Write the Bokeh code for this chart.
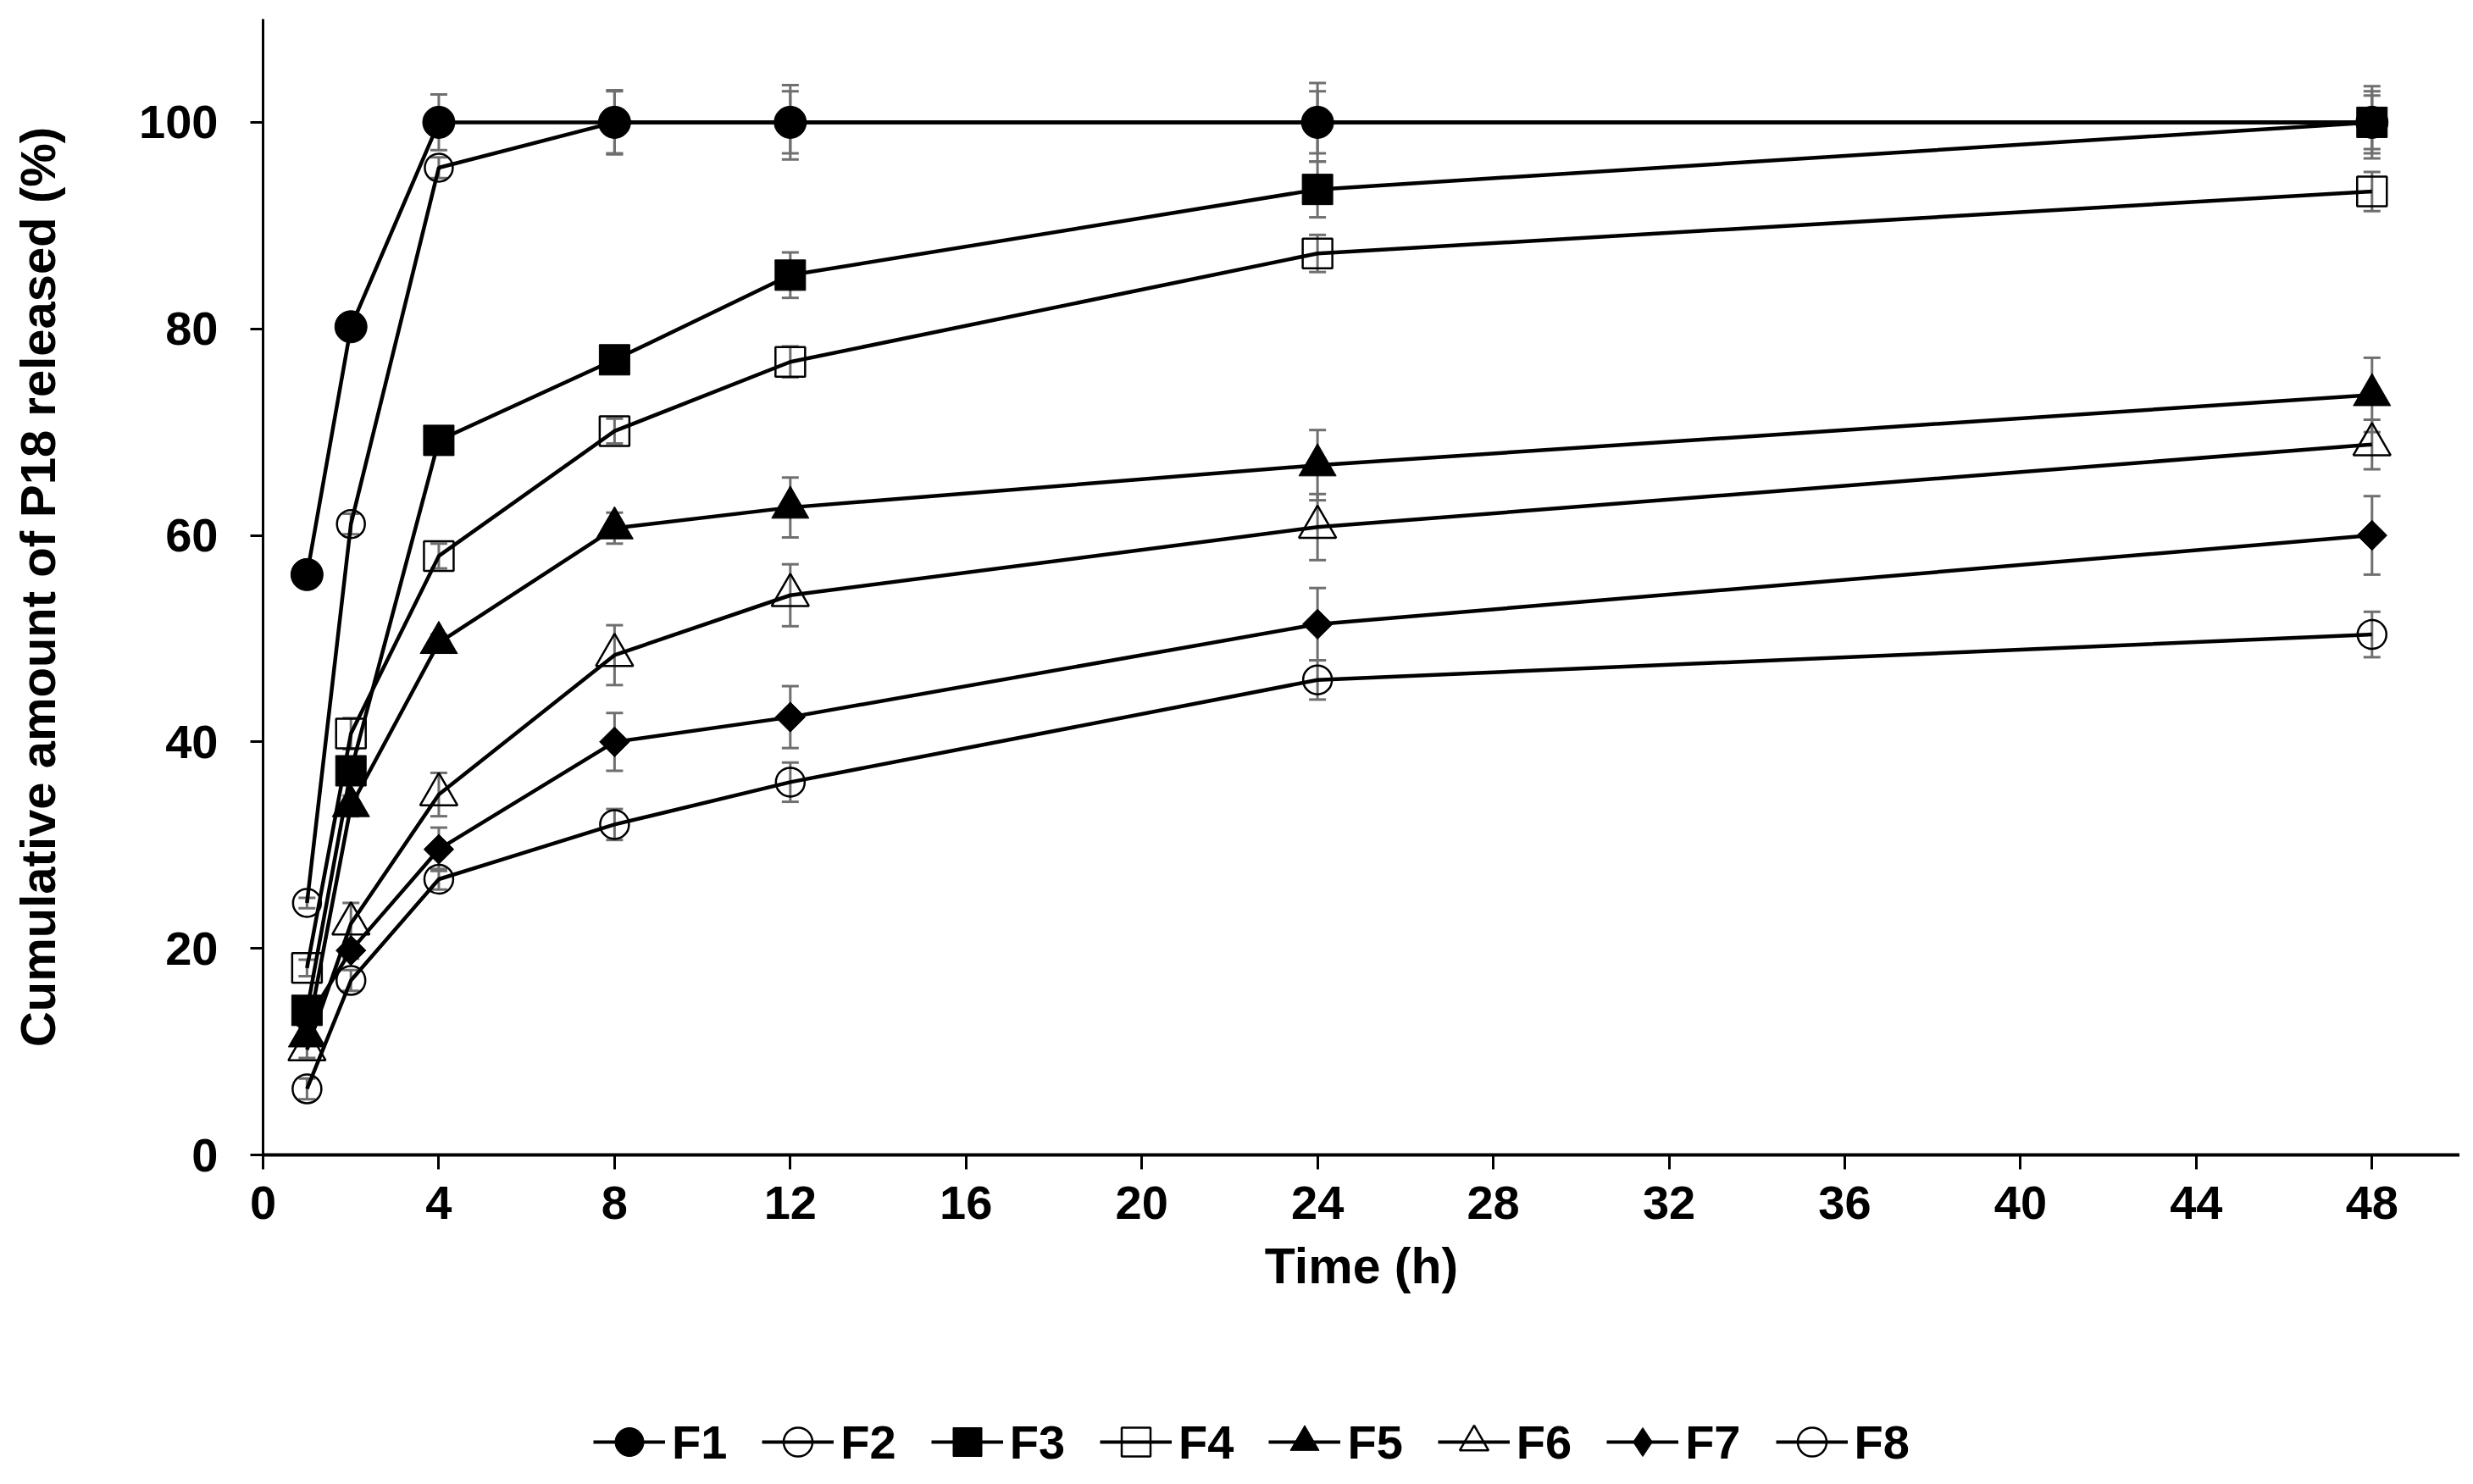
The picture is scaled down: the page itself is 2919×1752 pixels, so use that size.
import numpy as np
from bokeh.plotting import figure
from bokeh.layouts import column
from bokeh.models import (Range1d, FixedTicker, Whisker, TeeHead, ColumnDataSource,
                          Legend, LegendItem)
from bokeh.embed import file_html
from bokeh.resources import INLINE

# ---------------- data ----------------
time_h = [1, 2, 4, 8, 12, 24, 48]
series_names = ["F1", "F2", "F3", "F4", "F5", "F6", "F7", "F8"]

F1 = [56.2, 80.2, 100.0, 100.0, 100.0, 100.0, 100.0]
F2 = [24.4, 61.1, 95.6, 100.0, 100.0, 100.0, 100.0]
F3 = [14.0, 37.2, 69.2, 77.0, 85.2, 93.5, 100.0]
F4 = [18.1, 40.8, 58.0, 70.1, 76.8, 87.3, 93.3]
F5 = [11.5, 33.8, 49.6, 60.7, 62.7, 66.8, 73.6]
F6 = [10.2, 22.4, 34.9, 48.4, 54.2, 60.8, 68.8]
F7 = [13.0, 19.8, 29.6, 40.0, 42.4, 51.4, 60.0]
F8 = [6.4, 16.9, 26.7, 32.0, 36.1, 46.0, 50.4]

F1_sd = [0.6, 0.8, 2.7, 3.1, 3.6, 3.8, 2.6]
F2_sd = [0.5, 1.0, 1.0, 3.0, 3.0, 3.0, 3.0]
F3_sd = [0.8, 1.0, 1.0, 1.0, 2.2, 2.7, 3.5]
F4_sd = [0.8, 1.5, 1.2, 1.2, 1.5, 1.8, 1.9]
F5_sd = [0.5, 1.0, 0.8, 1.5, 2.9, 3.4, 3.6]
F6_sd = [0.8, 2.0, 2.1, 2.9, 3.0, 3.2, 2.4]
F7_sd = [0.5, 0.8, 2.1, 2.8, 3.0, 3.5, 3.8]
F8_sd = [1.0, 1.0, 1.0, 1.5, 1.9, 1.9, 2.2]

x_ticks = [0, 4, 8, 12, 16, 20, 24, 28, 32, 36, 40, 44, 48]
y_ticks = [0, 20, 40, 60, 80, 100]

x_title = "Time (h)"
y_title = "Cumulative amount of P18 released (%)"

values = [F1, F2, F3, F4, F5, F6, F7, F8]
errors = [F1_sd, F2_sd, F3_sd, F4_sd, F5_sd, F6_sd, F7_sd, F8_sd]

# marker styles: (plot marker, size, filled, angle, legend marker)
styles = [
    ("circle", 38, True, 0.0, "circle"),
    ("circle", 33, False, 0.0, "circle"),
    ("square", 36, True, 0.0, "square"),
    ("square", 35, False, 0.0, "square"),
    ("triangle", 44, True, 0.0, "triangle"),
    ("triangle", 44, False, 0.0, "triangle"),
    ("square", 25, True, np.pi / 4, "diamond"),
    ("circle", 34, False, 0.0, "circle"),
]

FONT = "Liberation Sans"
FS = "56px"
LINE_W = 4.5
OPEN_W = 2.5

# ---------------- main plot ----------------
p = figure(width=2903, height=1580, output_backend="svg", toolbar_location=None,
           x_range=Range1d(0, 50), y_range=Range1d(0, 110),
           min_border_left=310, min_border_right=0, min_border_top=22,
           min_border_bottom=217)
p.outline_line_color = None
p.xgrid.visible = False
p.ygrid.visible = False
p.background_fill_color = "white"

for ax in (p.xaxis[0], p.yaxis[0]):
    ax.major_label_text_font = FONT
    ax.major_label_text_font_size = FS
    ax.major_label_text_font_style = "bold"
    ax.major_label_text_color = "black"
    ax.axis_label_text_font = FONT
    ax.axis_label_text_font_style = "bold"
    ax.axis_label_text_color = "black"
    ax.minor_tick_line_color = None
    ax.major_tick_in = 0
    ax.axis_line_color = "black"
    ax.major_tick_line_color = "black"

p.xaxis.ticker = FixedTicker(ticks=x_ticks)
p.yaxis.ticker = FixedTicker(ticks=y_ticks)
p.xaxis.axis_label = x_title
p.yaxis.axis_label = y_title
p.xaxis.axis_label_text_font_size = "59px"
p.yaxis.axis_label_text_font_size = "58px"
p.xaxis.axis_line_width = 4
p.yaxis.axis_line_width = 3
p.xaxis.major_tick_line_width = 3
p.yaxis.major_tick_line_width = 3
p.xaxis.major_tick_out = 17
p.yaxis.major_tick_out = 15
p.xaxis.major_label_standoff = 20
p.yaxis.major_label_standoff = 38
p.xaxis.axis_label_standoff = 20
p.yaxis.axis_label_standoff = 84

# error bars (behind everything)
for vals, sds in zip(values, errors):
    src = ColumnDataSource(dict(
        x=time_h,
        upper=[v + s for v, s in zip(vals, sds)],
        lower=[v - s for v, s in zip(vals, sds)],
    ))
    w = Whisker(base="x", upper="upper", lower="lower", source=src,
                line_color="#6f6f6f", line_width=3, level="underlay",
                upper_head=TeeHead(size=20, line_color="#6f6f6f", line_width=3),
                lower_head=TeeHead(size=20, line_color="#6f6f6f", line_width=3))
    p.add_layout(w)

for vals, (mk, sz, filled, ang, _) in zip(values, styles):
    src = ColumnDataSource(dict(x=time_h, y=vals))
    p.line("x", "y", source=src, line_color="black", line_width=LINE_W)
    if filled:
        p.scatter("x", "y", source=src, marker=mk, size=sz, angle=ang,
                  fill_color="black", line_color="black", line_width=1)
    else:
        p.scatter("x", "y", source=src, marker=mk, size=sz, angle=ang,
                  fill_color=None, line_color="black", line_width=OPEN_W)

# ---------------- legend strip below ----------------
lf = figure(width=2903, height=156, output_backend="svg", toolbar_location=None,
            x_range=Range1d(0, 1), y_range=Range1d(0, 1),
            x_axis_location=None, y_axis_location=None,
            min_border_left=310, min_border_right=0, min_border_top=0,
            min_border_bottom=0)
lf.outline_line_color = None
lf.xgrid.visible = False
lf.ygrid.visible = False

items = []
for name, (mk, sz, filled, ang, lmk) in zip(series_names, styles):
    # legend-only renderers: a single undefined point, nothing is drawn in the strip
    proxy = ColumnDataSource(dict(x=[np.nan], y=[np.nan]))
    lr = lf.line("x", "y", source=proxy, line_color="black", line_width=4)
    if filled:
        sr = lf.scatter("x", "y", source=proxy, marker=lmk,
                        fill_color="black", line_color="black", line_width=1)
    else:
        sr = lf.scatter("x", "y", source=proxy, marker=lmk,
                        fill_color=None, line_color="black", line_width=OPEN_W)
    items.append(LegendItem(label=name, renderers=[lr, sr]))

legend = Legend(items=items, orientation="horizontal", location=(390, -12),
                glyph_width=85, glyph_height=92, label_standoff=8, spacing=41,
                padding=0, margin=0, border_line_color=None,
                background_fill_alpha=0.0,
                label_text_font=FONT, label_text_font_size=FS,
                label_text_font_style="bold", label_text_color="black")
lf.add_layout(legend, "center")

layout = column(p, lf, spacing=0)
open("out.html", "w").write(file_html(layout, INLINE))
